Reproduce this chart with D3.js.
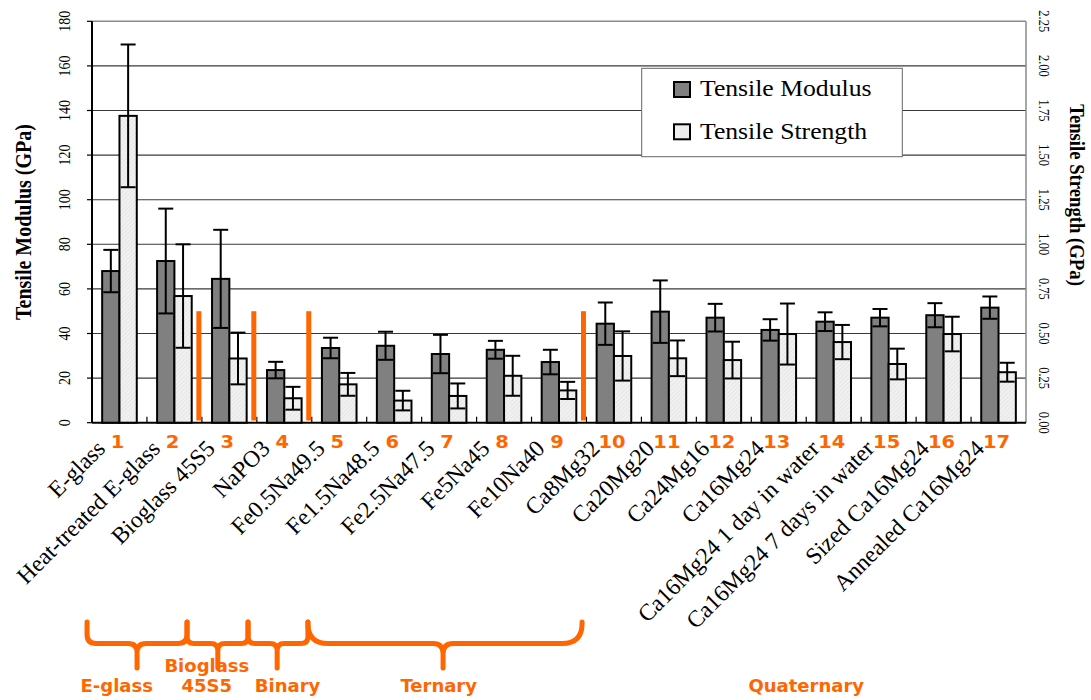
<!DOCTYPE html>
<html>
<head>
<meta charset="utf-8">
<script src="https://cdn.jsdelivr.net/npm/d3@7"></script>
<style>
  html, body { margin: 0; padding: 0; background: #fff; }
  svg { display: block; }
</style>
</head>
<body>
<svg id="chart" width="1091" height="700"></svg>
<script>
// ---- data ----
const categories = [
  "E-glass", "Heat-treated E-glass", "Bioglass 45S5", "NaPO3",
  "Fe0.5Na49.5", "Fe1.5Na48.5", "Fe2.5Na47.5", "Fe5Na45", "Fe10Na40",
  "Ca8Mg32", "Ca20Mg20", "Ca24Mg16", "Ca16Mg24",
  "Ca16Mg24 1 day in water", "Ca16Mg24 7 days in water",
  "Sized Ca16Mg24", "Annealed Ca16Mg24"
];
const sampleNumbers = ["1","2","3","4","5","6","7","8","9","10","11","12","13","14","15","16","17"];

// Tensile modulus (GPa) and its standard deviation
const modulus    = [68.0, 72.5, 64.5, 23.6, 33.5, 34.5, 30.8, 32.7, 27.2, 44.4, 49.8, 47.1, 41.6, 45.3, 47.1, 48.2, 51.6];
const modulusErr = [ 9.5, 23.5, 22.0,  3.7,  4.6,  6.3,  8.6,  4.0,  5.5,  9.5, 14.0,  6.2,  4.8,  4.2,  3.9,  5.4,  5.0];

// Tensile strength (GPa) and its standard deviation
const strength    = [1.72, 0.71, 0.36, 0.137, 0.215, 0.124, 0.150, 0.263, 0.181, 0.374, 0.361, 0.351, 0.497, 0.452, 0.329, 0.497, 0.283];
const strengthErr = [0.40, 0.29, 0.145, 0.064, 0.064, 0.055, 0.070, 0.112, 0.048, 0.138, 0.100, 0.103, 0.171, 0.096, 0.086, 0.097, 0.053];

const modulusTicks  = [0, 20, 40, 60, 80, 100, 120, 140, 160, 180];
const strengthTicks = [0, 0.25, 0.5, 0.75, 1.0, 1.25, 1.5, 1.75, 2.0, 2.25];

// glass families
const groupNames = [["E-glass"], ["Bioglass", "45S5"], ["Binary"], ["Ternary"], ["Quaternary"]];

// family separators sit after these category indices
const separatorsAfter = [1, 2, 3, 8];
const separatorSpan = [1, 50];   // in modulus units

const legendItems = ["Tensile Modulus", "Tensile Strength"];

// ---- layout ----
const W = 1091, H = 700;
const plot = { left: 92, right: 1026, top: 21.3, bottom: 422.7 };
const ORANGE = "#ff6600";
const SERIF = "'Liberation Serif', 'Times New Roman', Times, serif";
const SANS = "'DejaVu Sans', Verdana, sans-serif";
const SX = 1.12;   // horizontal stretch applied to lettering

// hand-drawn family braces, in category-slot units along the x axis
const braceEdges = [[-0.09, 1.73], [1.73, 2.84], [2.84, 3.93], [3.93, 8.92], null];
const braceTips  = [0.82, 2.29, 3.37, 6.39, null];
const braceRound = [9, 7, 7, 20, 0];
const groupLabelAt = [0.45, 2.09, 3.56, 6.31, 13.0];

const svg = d3.select("#chart");

const defs = svg.append("defs");
const pat = defs.append("pattern")
  .attr("id", "hatch").attr("patternUnits", "userSpaceOnUse")
  .attr("width", 3).attr("height", 3)
  .attr("patternTransform", "rotate(45)");
pat.append("rect").attr("width", 3).attr("height", 3).attr("fill", "#f1f1f1");
pat.append("line").attr("x1", 0).attr("y1", 0).attr("x2", 0).attr("y2", 3)
  .attr("stroke", "#dcdcdc").attr("stroke-width", 1);

const x = d3.scaleBand().domain(categories).range([plot.left, plot.right]).paddingInner(0).paddingOuter(0);
const slot = d3.scaleLinear().domain([0, categories.length]).range([plot.left, plot.right]);
const y = d3.scaleLinear().domain([0, 180]).range([plot.bottom, plot.top]);
const yR = d3.scaleLinear().domain([0, 2.25]).range([plot.bottom, plot.top]);
const cx = c => x(c) + x.bandwidth() / 2;
const bw = x.bandwidth() * 0.315;

function label(g, str, px, py, o) {
  o = o || {};
  return g.append("text")
    .attr("transform", `translate(${px},${py}) scale(${o.sx || SX},1) rotate(${o.rot || 0})`)
    .attr("text-anchor", o.anchor || "middle")
    .attr("font-family", o.family || SERIF)
    .attr("font-size", o.size || 14)
    .attr("font-weight", o.weight || "normal")
    .attr("fill", o.fill || "#000")
    .text(str);
}

// ---- gridlines and frame ----
const grid = svg.append("g");
grid.selectAll("line.g").data(modulusTicks.filter(t => t > 0 && t < 180)).join("line")
  .attr("x1", plot.left).attr("x2", plot.right)
  .attr("y1", d => y(d)).attr("y2", d => y(d))
  .attr("stroke", "#3a3a3a").attr("stroke-width", 1.1);
grid.append("line").attr("x1", plot.left).attr("x2", plot.right)
  .attr("y1", y(180)).attr("y2", y(180)).attr("stroke", "#8a8a8a").attr("stroke-width", 1.5);
grid.append("line").attr("x1", plot.right).attr("x2", plot.right)
  .attr("y1", y(180)).attr("y2", y(0)).attr("stroke", "#8a8a8a").attr("stroke-width", 1.5);

// ---- left axis ----
const axL = svg.append("g");
axL.append("line").attr("x1", plot.left).attr("x2", plot.left)
  .attr("y1", y(180)).attr("y2", y(0)).attr("stroke", "#000").attr("stroke-width", 2);
axL.selectAll("line.t").data(modulusTicks).join("line")
  .attr("x1", plot.left - 5).attr("x2", plot.left)
  .attr("y1", d => y(d)).attr("y2", d => y(d))
  .attr("stroke", "#000").attr("stroke-width", 1.2);
modulusTicks.forEach(t => label(axL, String(t), 70, y(t), { rot: -90, size: 14, sx: 1.25 }));
label(axL, "Tensile Modulus (GPa)", 31, 222, { rot: -90, size: 20, weight: "bold", sx: 1.13 });

// ---- right axis ----
const axR = svg.append("g");
strengthTicks.forEach(t => label(axR, t.toFixed(2), 1039, yR(t), { rot: 90, size: 12.5, sx: 1.2 }));
label(axR, "Tensile Strength (GPa)", 1070, 195, { rot: 90, size: 18.7, weight: "bold", sx: 1.12 });

// ---- bottom axis ----
const axB = svg.append("g");
axB.append("line").attr("x1", plot.left).attr("x2", plot.right)
  .attr("y1", y(0)).attr("y2", y(0)).attr("stroke", "#000").attr("stroke-width", 2);
axB.selectAll("line.t").data(categories.slice(1)).join("line")
  .attr("x1", d => x(d)).attr("x2", d => x(d))
  .attr("y1", y(0)).attr("y2", y(0) - 6)
  .attr("stroke", "#000").attr("stroke-width", 1.2);

// ---- bars ----
const bars = svg.append("g");
bars.selectAll("rect.mod").data(categories).join("rect")
  .attr("x", d => cx(d) - bw).attr("width", bw)
  .attr("y", (d, i) => y(modulus[i])).attr("height", (d, i) => y(0) - y(modulus[i]))
  .attr("fill", "#808080").attr("stroke", "#000").attr("stroke-width", 2);
bars.selectAll("rect.str").data(categories).join("rect")
  .attr("x", d => cx(d)).attr("width", bw)
  .attr("y", (d, i) => yR(strength[i])).attr("height", (d, i) => y(0) - yR(strength[i]))
  .attr("fill", "url(#hatch)").attr("stroke", "#000").attr("stroke-width", 2);

// ---- error bars ----
const capW = 15;
function errorBars(vals, errs, scale, offset) {
  const g = svg.append("g").attr("stroke", "#000").attr("stroke-width", 2);
  categories.forEach((c, i) => {
    const xc = cx(c) + offset;
    const y1 = scale(vals[i] + errs[i]), y0 = scale(Math.max(0, vals[i] - errs[i]));
    g.append("line").attr("x1", xc).attr("x2", xc).attr("y1", y1).attr("y2", y0);
    g.append("line").attr("x1", xc - capW / 2).attr("x2", xc + capW / 2).attr("y1", y1).attr("y2", y1);
    g.append("line").attr("x1", xc - capW / 2).attr("x2", xc + capW / 2).attr("y1", y0).attr("y2", y0);
  });
}
errorBars(modulus, modulusErr, y, -bw / 2);
errorBars(strength, strengthErr, yR, bw / 2);

// ---- family separators ----
svg.append("g").selectAll("line").data(separatorsAfter).join("line")
  .attr("x1", i => x(categories[i]) + x.bandwidth() - 3)
  .attr("x2", i => x(categories[i]) + x.bandwidth() - 3)
  .attr("y1", y(separatorSpan[0])).attr("y2", y(separatorSpan[1]))
  .attr("stroke", ORANGE).attr("stroke-width", 5);

// ---- legend ----
const leg = svg.append("g");
leg.append("rect").attr("x", 641.7).attr("y", 68.3).attr("width", 260.6).attr("height", 88.4)
  .attr("fill", "#fff").attr("stroke", "#666").attr("stroke-width", 1);
legendItems.forEach((name, i) => {
  const yy = 82 + i * 42.3;
  leg.append("rect").attr("x", 674).attr("y", yy).attr("width", 16).attr("height", 15)
    .attr("fill", i === 0 ? "#808080" : "#eeeeee").attr("stroke", "#000").attr("stroke-width", 2);
  label(leg, name, 700, yy + 14.3, { anchor: "start", size: 24, sx: 1.07 });
});

// ---- sample numbers and names ----
const ann = svg.append("g");
categories.forEach((c, i) => {
  label(ann, sampleNumbers[i], cx(c) - 2, 448, { family: SANS, weight: "bold", size: 18, sx: 1.08, fill: ORANGE });
});
categories.forEach(c => {
  label(ann, c, cx(c) - 13, 450, { anchor: "end", rot: -45, size: 23.5, sx: 1.0 });
});

// ---- family braces ----
const bTop = 622, bMid = 643.5, bBot = 668;
function bracePath(x0, x1, xm, r) {
  const rc = Math.min(r, 10);
  return `M${x0},${bTop} L${x0},${bMid - r} Q${x0},${bMid} ${x0 + r},${bMid} ` +
         `L${xm - rc},${bMid} Q${xm},${bMid} ${xm},${bMid + rc} L${xm},${bBot} ` +
         `M${xm},${bMid + rc} Q${xm},${bMid} ${xm + rc},${bMid} ` +
         `L${x1 - r},${bMid} Q${x1},${bMid} ${x1},${bMid - r} L${x1},${bTop}`;
}
const fam = svg.append("g");
groupNames.forEach((names, k) => {
  if (braceEdges[k]) {
    fam.append("path")
      .attr("d", bracePath(slot(braceEdges[k][0]), slot(braceEdges[k][1]), slot(braceTips[k]), braceRound[k]))
      .attr("fill", "none").attr("stroke", ORANGE).attr("stroke-width", 5)
      .attr("stroke-linecap", "round").attr("stroke-linejoin", "round");
  }
});
groupNames.forEach((names, k) => {
  names.forEach((n, j) => {
    label(fam, n, slot(groupLabelAt[k]), 692 - (names.length - 1 - j) * 20,
      { family: SANS, weight: "bold", size: 18, sx: 1.0, fill: ORANGE });
  });
});
</script>
</body>
</html>
